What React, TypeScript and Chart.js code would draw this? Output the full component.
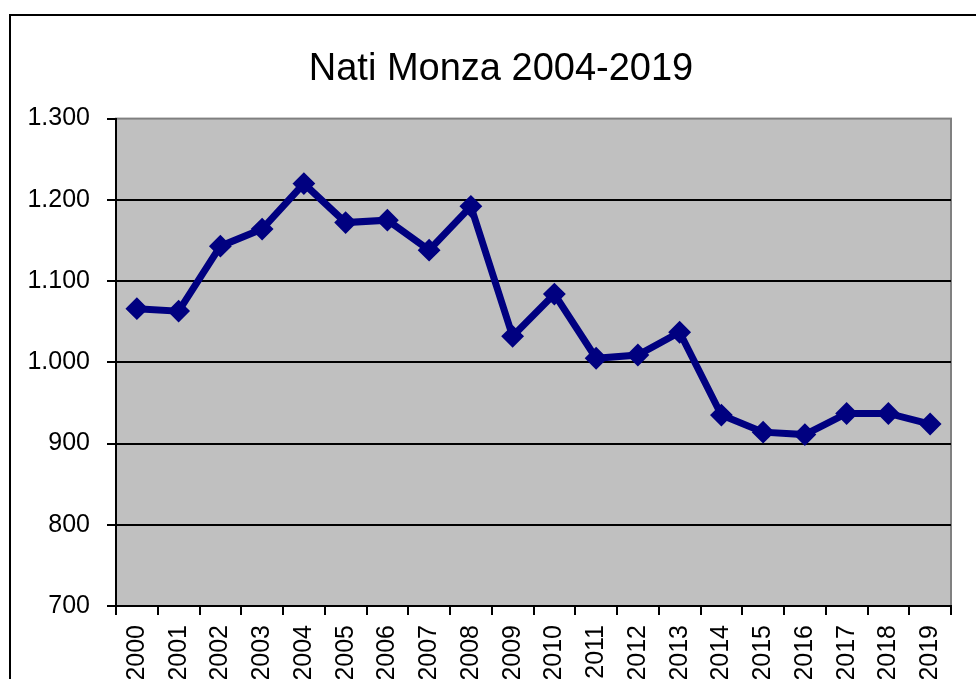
import React, { useEffect, useRef } from 'react';
import { Chart, registerables } from 'chart.js';

Chart.register(...registerables);

const chartTitle = 'Nati Monza 2004-2019';
const years = ['2000', '2001', '2002', '2003', '2004', '2005', '2006', '2007', '2008', '2009', '2010', '2011', '2012', '2013', '2014', '2015', '2016', '2017', '2018', '2019'];
const births = [1066, 1063, 1143, 1164, 1220, 1172, 1175, 1138, 1192, 1032, 1084, 1005, 1009, 1037, 935, 914, 911, 937, 937, 924];
const yMin = 700;
const yMax = 1300;
const yStep = 100;

const fmt = (v: number) => {
  const s = String(Math.round(v));
  return s.length > 3 ? s.slice(0, -3) + '.' + s.slice(-3) : s;
};

const FONT = "'Liberation Sans', Arial, sans-serif";

const framePlugin = {
  id: 'frame',
  beforeDraw(chart: any) {
    const { ctx, chartArea: a, width, height } = chart;
    ctx.save();
    ctx.fillStyle = '#ffffff';
    ctx.fillRect(0, 0, width, height);
    ctx.strokeStyle = '#000000';
    ctx.lineWidth = 2;
    ctx.strokeRect(10, 15, 1000, height + 40);
    ctx.fillStyle = '#c0c0c0';
    ctx.fillRect(a.left, a.top, a.right - a.left, a.bottom - a.top);
    ctx.strokeStyle = '#808080';
    ctx.lineWidth = 2;
    ctx.strokeRect(a.left, a.top, a.right - a.left, a.bottom - a.top);
    ctx.restore();
  },
};

export default function App() {
  const ref = useRef<HTMLCanvasElement | null>(null);

  useEffect(() => {
    if (!ref.current) return;
    const chart = new Chart(ref.current, {
      type: 'line',
      data: {
        labels: years,
        datasets: [
          {
            label: 'Nati',
            data: births,
            yAxisID: 'y',
            borderColor: '#000080',
            backgroundColor: '#000080',
            borderWidth: 7,
            tension: 0,
            pointStyle: 'rectRot',
            pointRadius: 10,
            pointBorderWidth: 2,
            pointBackgroundColor: '#000080',
            pointBorderColor: '#000080',
          },
        ],
      },
      options: {
        responsive: false,
        animation: false,
        devicePixelRatio: 1,
        layout: { padding: { left: 26, right: 0, top: 0, bottom: 0 } },
        plugins: {
          legend: { display: false },
          tooltip: { enabled: false },
          title: {
            display: true,
            text: chartTitle,
            color: '#000000',
            font: { family: FONT, size: 38, weight: 'normal', lineHeight: 1.2 },
            padding: { top: 47, bottom: 26 },
          },
        },
        scales: {
          x: {
            offset: true,
            afterFit: (scale: any) => {
              scale.height = 114;
            },
            grid: {
              display: true,
              offset: true,
              drawOnChartArea: false,
              drawTicks: true,
              tickLength: 9,
              tickColor: '#000000',
              color: '#000000',
              lineWidth: 2,
            },
            border: { display: true, color: '#000000', width: 2 },
            ticks: {
              autoSkip: false,
              minRotation: 90,
              maxRotation: 90,
              padding: 10,
              color: '#000000',
              font: { family: FONT, size: 25 },
            },
          },
          y: {
            position: 'left',
            min: yMin,
            max: yMax,
            afterFit: (scale: any) => {
              scale.width = 90;
            },
            grid: {
              color: (c: any) => (c.tick && c.tick.value === yMax ? 'rgba(0,0,0,0)' : '#000000'),
              tickColor: '#000000',
              lineWidth: 2,
              tickLength: 9,
              drawTicks: true,
            },
            border: { display: true, color: '#000000', width: 2 },
            ticks: {
              stepSize: yStep,
              padding: 17,
              color: '#000000',
              font: { family: FONT, size: 25 },
              callback: (v: any) => fmt(Number(v)),
            },
          },
          yRight: {
            position: 'right',
            display: true,
            min: yMin,
            max: yMax,
            afterFit: (scale: any) => {
              scale.width = 25;
            },
            grid: { display: false, drawOnChartArea: false, drawTicks: false },
            border: { display: false },
            ticks: { display: false },
          },
        },
      },
      plugins: [framePlugin],
    });
    return () => chart.destroy();
  }, []);

  return (
    <div
      style={{
        position: 'fixed',
        left: 0,
        top: 0,
        width: 976,
        height: 679,
        overflow: 'hidden',
        background: '#ffffff',
      }}
    >
      <canvas ref={ref} width={976} height={720} style={{ display: 'block', width: 976, height: 720 }} />
    </div>
  );
}
